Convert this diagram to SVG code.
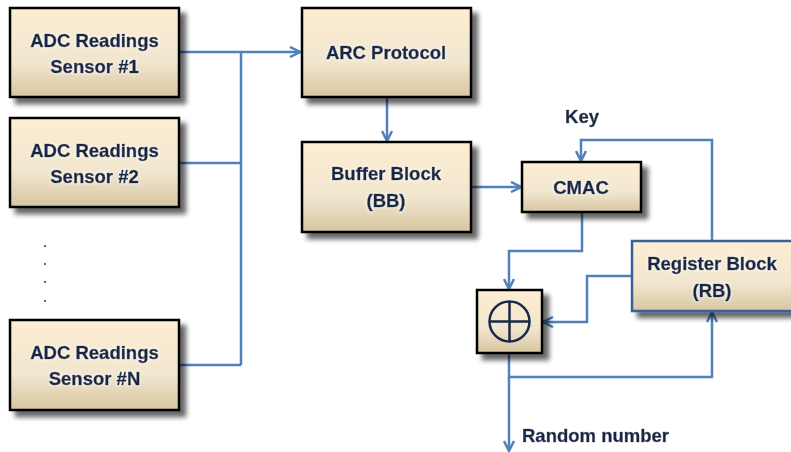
<svg xmlns="http://www.w3.org/2000/svg" width="791" height="452" viewBox="0 0 791 452">
<defs>
<linearGradient id="fill" x1="0" y1="0" x2="0" y2="1">
<stop offset="0" stop-color="#FDEED3"/>
<stop offset="0.6" stop-color="#F1E6CF"/>
<stop offset="1" stop-color="#D8C6A0"/>
</linearGradient>
<filter id="shadow" x="-10%" y="-10%" width="130%" height="140%">
<feGaussianBlur in="SourceAlpha" stdDeviation="2.5"/>
<feOffset dx="6" dy="6" result="b"/>
<feComponentTransfer><feFuncA type="linear" slope="0.6"/></feComponentTransfer>
<feMerge><feMergeNode/><feMergeNode in="SourceGraphic"/></feMerge>
</filter>
<filter id="glow" x="-10%" y="-30%" width="120%" height="160%">
<feMorphology in="SourceAlpha" operator="dilate" radius="1" result="d"/>
<feGaussianBlur in="d" stdDeviation="1" result="g"/>
<feFlood flood-color="#ffffff" flood-opacity="0.5"/>
<feComposite in2="g" operator="in"/>
<feMerge><feMergeNode/><feMergeNode in="SourceGraphic"/></feMerge>
</filter>
<marker id="arr" viewBox="0 0 12 12" refX="11" refY="6" markerWidth="12" markerHeight="12" markerUnits="userSpaceOnUse" orient="auto">
<path d="M1,1 L11,6 L1,11" fill="none" stroke="#4F81BD" stroke-width="2.5"/>
</marker>
</defs>
<style>
.box{fill:url(#fill);stroke:#000;stroke-width:2.5;filter:url(#shadow)}
.rb{fill:url(#fill);stroke:#3A6197;stroke-width:2.5;filter:url(#shadow)}
.t{font-family:"Liberation Sans",Arial,sans-serif;font-weight:bold;font-size:18.5px;fill:#15264A;stroke:#15264A;stroke-width:0.5;text-anchor:middle;filter:url(#glow)}
.c{fill:none;stroke:#4F81BD;stroke-width:2.5}
.dot{fill:#222}
</style>
<rect width="791" height="452" fill="#fff"/>
<g id="connectors">
<path class="c" d="M179,52 H300" marker-end="url(#arr)"/>
<path class="c" d="M179,163 H241 M179,365 H241 M241,52 V365"/>
<path class="c" d="M387,97 V141" marker-end="url(#arr)"/>
<path class="c" d="M471,187 H521" marker-end="url(#arr)"/>
<path class="c" d="M712,241 V140 H581 V161" marker-end="url(#arr)"/>
<path class="c" d="M582,212 V251 H509 V289" marker-end="url(#arr)"/>
<path class="c" d="M632,276 H587 V322 H543" marker-end="url(#arr)"/>
<path class="c" d="M509,353 V377 H712 V312" marker-end="url(#arr)"/>
<path class="c" d="M509,377 V451" marker-end="url(#arr)"/>
</g>
<g id="sensor1"><rect class="box" x="10" y="8" width="169" height="89"/><text class="t" x="94.5" y="47">ADC Readings</text><text class="t" x="94.5" y="73">Sensor #1</text></g>
<g id="sensor2"><rect class="box" x="10" y="118" width="169" height="89"/><text class="t" x="94.5" y="157">ADC Readings</text><text class="t" x="94.5" y="183">Sensor #2</text></g>
<g id="dots"><circle class="dot" cx="45" cy="246" r="0.9"/><circle class="dot" cx="45" cy="264" r="0.9"/><circle class="dot" cx="45" cy="282" r="0.9"/><circle class="dot" cx="45" cy="301" r="0.9"/></g>
<g id="sensorN"><rect class="box" x="10" y="320" width="169" height="90"/><text class="t" x="94.5" y="359">ADC Readings</text><text class="t" x="94.5" y="385">Sensor #N</text></g>
<g id="arc"><rect class="box" x="302" y="8" width="169" height="89"/><text class="t" x="386" y="59">ARC Protocol</text></g>
<g id="buffer"><rect class="box" x="302" y="142" width="169" height="90"/><text class="t" x="386" y="180">Buffer Block</text><text class="t" x="386" y="207">(BB)</text></g>
<g id="cmac"><rect class="box" x="522" y="162" width="119" height="50"/><text class="t" x="581" y="194">CMAC</text></g>
<g id="key"><text class="t" x="582" y="123">Key</text></g>
<g id="register"><rect class="rb" x="632" y="241" width="162" height="70"/><text class="t" x="712" y="270">Register Block</text><text class="t" x="712" y="297">(RB)</text></g>
<g id="xor"><rect class="box" x="477" y="290" width="65" height="63"/><circle cx="509.5" cy="321.5" r="20" fill="none" stroke="#1A2A44" stroke-width="2.5"/><path d="M489.5,321.5 H529.5 M509.5,301.5 V341.5" stroke="#1A2A44" stroke-width="2.5"/></g>
<g id="random"><text class="t" x="522" y="442" style="text-anchor:start">Random number</text></g>
</svg>
